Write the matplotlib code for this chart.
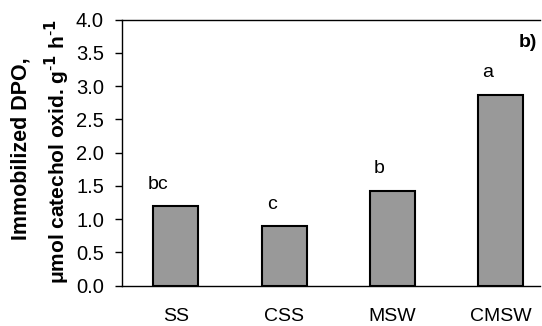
import matplotlib
matplotlib.use("Agg")
import matplotlib.pyplot as plt

# Immobilized DPO activity per amendment
treatments = ["SS", "CSS", "MSW", "CMSW"]
dpo_activity = [1.20, 0.90, 1.43, 2.87]
group_letters = ["bc", "c", "b", "a"]
y_ticks = [0.0, 0.5, 1.0, 1.5, 2.0, 2.5, 3.0, 3.5, 4.0]

plt.rcParams["font.family"] = ["Liberation Sans", "DejaVu Sans"]

fig = plt.figure(figsize=(5.42, 3.26), dpi=100)
ax = fig.add_axes([122 / 542, 1 - 285.7 / 326, 418 / 542, 266.2 / 326])

x = list(range(len(treatments)))
ax.bar(x, dpo_activity, width=0.415, color="#999999",
       edgecolor="black", linewidth=1.5, zorder=2)

for xi, val, lab in zip(x, dpo_activity, group_letters):
    ax.text(xi - 0.07, val + 0.26, lab, ha="right", va="baseline",
            fontsize=14)

ax.text(0.971, 0.915, "b)", transform=ax.transAxes, ha="center",
        va="center", fontsize=14, fontweight="bold")

ax.set_xlim(-0.496, 3.36)
ax.set_ylim(0, 4.0)
ax.set_yticks(y_ticks)
ax.set_yticklabels([f"{t:.1f}" for t in y_ticks])
ax.set_xticks(x)
ax.set_xticklabels(treatments)

ax.tick_params(axis="y", direction="out", length=5, width=1,
               pad=8, labelsize=14.5)
ax.tick_params(axis="x", length=0, pad=16, labelsize=14)

ax.spines["right"].set_visible(False)
for side in ("left", "top", "bottom"):
    ax.spines[side].set_linewidth(1.0)
    ax.spines[side].set_color("black")

fig.text(21 / 542, 1 - 148.5 / 326, "Immobilized DPO,", rotation=90,
         ha="center", va="center", fontsize=15.5, fontweight="bold")
fig.text(57 / 542, 1 - 151.5 / 326,
         r"μmol catechol oxid. g$^{\mathbf{\text{-}1}}$ h$^{\mathbf{\text{-}1}}$",
         rotation=90, ha="center", va="center", fontsize=15,
         fontweight="bold")

fig.savefig("out.png", dpi=100)
